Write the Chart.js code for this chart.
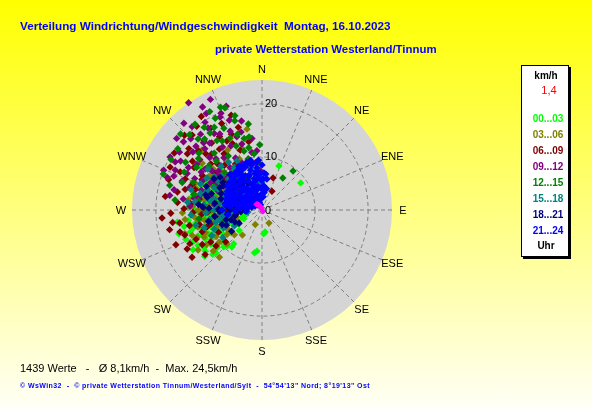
<!DOCTYPE html>
<html><head><meta charset="utf-8">
<script src="https://cdn.jsdelivr.net/npm/chart.js@4.4.0/dist/chart.umd.min.js"></script>
<style>
html,body{margin:0;padding:0;}
body{width:592px;height:407px;overflow:hidden;position:relative;background:linear-gradient(to bottom,#ffff00 0%,#fffff6 100%);font-family:"Liberation Sans",Arial,sans-serif;}
#c{position:absolute;left:0;top:0;}
.t{position:absolute;white-space:pre;line-height:1;margin:0;}
#title1{left:20px;top:20.1px;font-size:11.7px;font-weight:bold;color:#0000ff;}
#title2{left:215px;top:44.4px;font-size:11.4px;font-weight:bold;color:#0000ff;}
#foot1{left:20px;top:363.4px;font-size:11px;color:#000;}
#foot2{left:20px;top:382px;font-size:7px;font-weight:bold;color:#0000ff;letter-spacing:0.42px;}
#lbox{position:absolute;left:521px;top:65px;width:46px;height:190px;background:#fff;border:1px solid #000;box-shadow:2px 2px 0 #000;}
.lg{position:absolute;left:521px;width:50px;text-align:center;white-space:pre;line-height:1;font-size:10px;font-weight:bold;}
</style>
</head><body>
<div id="lbox"></div>
<canvas id="c" width="592" height="407"></canvas>
<div class="t" id="title1"></div>
<div class="t" id="title2"></div>
<div class="t" id="foot1"></div>
<div class="t" id="foot2"></div>
<div id="legend"></div>
<script>
// ---- texts / categories ----
const titleLine1 = "Verteilung Windrichtung/Windgeschwindigkeit  Montag, 16.10.2023";
const titleLine2 = "private Wetterstation Westerland/Tinnum";
const footerLine1 = "1439 Werte   -   Ø 8,1km/h  -  Max. 24,5km/h";
const footerLine2 = "© WsWin32  -  © private Wetterstation Tinnum/Westerland/Sylt  -  54°54'13\" Nord; 8°19'13\" Ost";
const directionLabels = ["N","NNE","NE","ENE","E","ESE","SE","SSE","S","SSW","SW","WSW","W","WNW","NW","NNW"];
const ringTicks = [0, 10, 20];
const scaleMax = 24.5;
const legendUnit = "km/h";
const currentSpeed = "1,4";
const legendFoot = "Uhr";
const seriesLabels = ["00...03","03...06","06...09","09...12","12...15","15...18","18...21","21...24"];
const seriesColors = ["#00ff00","#808000","#800000","#800080","#008000","#008080","#000080","#0000ff"];
const currentColor = "#ff00ff";

// ---- data: [direction in degrees, speed km/h] ----
const s0003 = [[250,10],[255,11],[260,12],[245,9],[240,11],[248,13],[252,8],[258,9],[262,14],[265,10],[268,12],[243,12],[237,13],[234,13.2],[230,11],[226,10],[220,8.3],[219,9],[228,12.5],[255,13.5],[262,16.1],[258,15],[270,11],[275,9],[278,12],[272,14],[266,7],[260,6],[253,6.5],[247,7],[242,6],[282,8],[286,10],[290,7],[280,5],[300,8],[310,10],[295,12],[305,14],[315,11],[250,4],[264,3.5],[240,15],[232,9.5],[238,7.5],[21,8.9],[55,8.9],[172,4.2],[176,4.5],[187,7.8],[190,8.2],[268,8],[257,10.5],[274,6],[246,11],
  [251,9.6],[256,7.8],[261,10.8],[244,10.4],[239,8.7],[247,12.2],[253,14.1],[259,12.7],[263,11.3],[267,9.3],[271,12.8],[276,10.6],[281,13.4],[284,11.7],[288,9.1],[292,12.4],[297,10.2],[241,13.8],[236,11.6],[231,13.9],[227,11.9],[224,9.4],[249,15.4],[254,16.3],[245,14.5],[257,5.2],[263,7.6],[270,8.9],[277,7.3],[285,6.6],[293,9.9],[302,11.1],[308,12.6],[233,7.2],[228,5.8],[239,5.1],[244,3.8],[256,3.2],[271,4.4],[282,10.3],[266,13.3],[259,8.2],[252,11.7],[248,5.9]];
const s0306 = [[152,2.8],[222,12],[238,14.2],[349.5,15.5],[245,12],[250,14],[255,12.5],[260,11],[265,13],[270,12],[275,10],[280,11],[285,9],[290,8],[260,7],[250,9],[240,10],[235,8],[230,12],[245,5],[255,5],[265,6],[275,5],[283,7],[295,11],[300,13],[310,12],[320,9],[305,7],[268,15],[258,13.8],[248,11.5],[262,9],[272,8],[278,14],[288,13],[228,7],[218,6],[205,3],[298,5],[315,16],[330,13],
  [243,10.7],[247,13.3],[252,11.2],[257,9.8],[262,12.4],[267,10.3],[273,13.1],[277,8.6],[282,12.7],[287,10.4],[292,13.6],[297,9.2],[303,11.8],[308,14.3],[313,10.6],[318,12.9],[324,11.4],[233,10.1],[238,12.3],[226,9.2],[241,7.4],[254,7.9],[269,9.6],[279,6.4],[289,5.7],[296,7.9],[311,8.4],[325,7.1],[336,10.5],[342,12.2],[263,14.6],[253,15.2]];
const s0609 = [[265.4,18.9],[236,15.9],[242.5,15.9],[19,6.4],[342,18.8],[317,19.3],[303,19.7],[310,18],[320,17],[330,16],[325,14],[315,15],[305,16],[295,17],[285,15],[275,16],[268,13],[258,14],[250,12],[245,15],[240,13],[232,11],[255,10],[263,9],[272,11],[280,12],[290,11],[300,10],[310,9],[320,11],[330,10],[340,12],[335,18],[300,13],[290,14],[280,8],[270,7],[260,8],[250,7.5],[285,6],[295,7],[305,5],[315,6],[262,17],[255,16],[248,17.5],[312,13],[322,20],[28,4],[275,13.5],[288,18.5],[327,21],
  [246,13.6],[252,15.3],[257,12.1],[261,15.7],[266,11.4],[271,14.7],[277,12.6],[282,16.3],[287,13.2],[292,15.6],[297,12.7],[302,15.1],[307,17.6],[313,16.4],[318,14.2],[323,15.8],[328,18.2],[333,14.6],[338,15.4],[344,16.2],[349,13.1],[238,11.4],[243,9.2],[253,10.8],[268,10.2],[283,9.6],[298,8.9],[308,11.3],[316,12.1],[326,12.8],[336,13.7],[258,17.8],[268,17.2],[278,18.4],[295,19.1],[314,20.3],[232,13.6],[229,9.1]];
const s0912 = [[325.6,24.5],[335.7,19.2],[345,15.2],[326.6,18.5],[299,18.7],[294.7,18],[330,21],[320,20.5],[315,19],[310,17],[305,15],[300,16],[295,14],[290,16],[288,12],[298,11],[308,12],[318,13],[328,14],[338,16],[343,13],[333,11],[323,10],[313,9],[303,8],[293,9],[285,10],[280,13],[275,11],[300,20],[310,21],[318,22],[328,17],[340,18],[350,11],[352,9],[357,7.5],[345,9],[315,14],[305,19],[292,20],[283,17],[278,15],[335,23],[322,16],[312,11],[302,13.5],[296,12.5],[286,8],[276,9],
  [287,14.3],[291,17.8],[296,15.7],[301,17.9],[306,13.2],[309,15.1],[314,17.3],[317,15.8],[321,18.4],[324,12.2],[327,19.7],[331,16.4],[334,13.4],[337,19.8],[341,14.6],[347,17.2],[352,13.6],[355,11.2],[302,10.1],[307,10.6],[317,11.4],[327,8.7],[337,9.6],[282,12.1],[279,17.6],[273,13.6],[289,18.9],[311,19.6],[319,16.8],[341,20.7],[330,22.4]];
const s1215 = [[38.5,9.4],[33,7.2],[299,19.6],[306,19.6],[340,20.5],[276.6,16.5],[332,21],[325,19],[318,18],[312,16],[335,17],[342,15],[348,12],[338,13],[328,12],[320,14],[310,13],[300,12],[292,14],[288,11],[296,10],[305,9],[315,10],[325,9],[335,8.5],[345,10],[355,9],[330,15],[322,20.5],[313,21],[302,17],[285,18],[280,9],[270,10],[262,12],[255,8],[298,7],[308,6],[330,18],[344,18.5],[350,14],
  [316,19.7],[321,17.2],[327,15.6],[333,19.4],[338,20.9],[343,17.6],[346,13.9],[351,16.4],[336,14.8],[326,17.5],[317,12.6],[309,15.4],[303,14.7],[296,16.3],[289,15.9],[283,13.2],[278,12.1],[314,8.3],[324,6.8],[343,11.6],[352,10.7],[358,12.3],[290,19.8]];
const s1518 = [[262,2.7],[270,4],[275,6],[280,8],[285,5],[290,7],[295,9],[300,6],[305,8],[310,10],[315,7],[320,9],[325,11],[330,8],[260,6],[265,8],[270,9],[275,11],[280,10],[285,12],[290,11],[295,10],[300,12],[305,11],[310,5],[250,7],[255,9],[260,10],[245,8],[268,5.5],[278,3.5],[288,4.5],[298,5],[308,4],[318,5.5],[328,6],[340,7],[350,5],[0,5.3],[292,8],[282,6.5],[272,7.5],[240,6],[235,9],
  [263,7.3],[267,10.6],[273,8.4],[277,12.7],[283,9.3],[287,10.9],[293,12.6],[297,7.6],[303,9.7],[307,12.8],[313,8.6],[317,11.3],[322,7.6],[327,9.6],[333,10.4],[337,6.4],[253,11.4],[258,8.1],[248,9.7],[243,10.6],[257,12.8],[266,13.4],[276,14.1],[286,13.9],[296,6.8],[312,6.1],[345,8.2],[355,7.1]];
const s1821 = [[265,4],[270,6],[275,5],[280,7],[285,8],[290,5],[295,6],[300,7],[305,9],[310,8],[315,6],[320,7],[325,5],[260,5],[255,7],[250,8],[262,9],[268,8],[272,10],[278,9],[288,10],[298,9],[308,10],[318,9],[280,3],[290,3],[300,4],[310,3],[320,4],[330,3],[240,5],[235,7],[246,5.6],[275,12],[285,11],
  [263,6.6],[267,4.7],[271,8.2],[276,6.7],[282,5.6],[287,6.4],[292,8.3],[297,4.4],[302,8.6],[307,6.3],[312,5.2],[317,8.1],[323,6.2],[327,8.4],[333,5.7],[338,6.8],[257,5.3],[252,6.1],[247,7.3],[273,11.2],[283,10.6],[293,11.4],[303,10.8],[258,10.3],[268,3.2],[296,2.2],[313,2.3],[345,4.1]];
const s2124 = [[288,6],[310,7.4],[333,8.4],[347,8.7],[346,3.9],[315,4],[281,4.8],[295,5.5],[300,3],[305,6],[320,6.5],[325,5],[330,3.5],[335,6],[340,7],[345,5.5],[350,4.5],[355,6.5],[358,3],[2,5.9],[9,5.9],[5,2.5],[350,2],[340,1.5],[325,2],[310,2.5],[290,3.5],[285,2],[280,6],[275,4],[278,7],[285,6.6],[292,7],[298,7.4],[305,7.9],[312,8],[318,8.3],[322,8.2],[328,8.8],[336,9.2],[342,9.4],[348,9],[353,8],[357,7],[0,8.5],[3,7],[330,7.5],[315,5.5],[300,5],[288,4],[296,2.5],[303,4.2],[312,3.8],[319,3],[327,4.5],[335,4],[342,3],[336,2.5],[320,1.2],[345,1],[300,1.5],[290,6.5],[283,5.5],[276,6],[272,3],[268,5],[265,3],[262,6.5],[270,7.5],[295,7.2],[308,7.2],[316,8.1],[325,8.6],[332,9.3],[340,9],[354,9.1],[349,7],[338,5],[324,7],[311,6.5],[306,7.5],[320,4.7],[287,6.8],[300,6.8],
  [283,3.3],[287,5.1],[291,4.1],[294,7.2],[297,6.2],[299,4.6],[302,7.1],[304,3.4],[307,5.2],[309,7.5],[313,6.8],[314,2.9],[317,7.7],[321,5.4],[323,3.7],[326,8.1],[329,6.4],[331,4.2],[334,7.2],[337,3.6],[339,8.7],[341,5.1],[344,7.8],[346,6.1],[348,2.6],[351,5.9],[352,7.4],[356,4.2],[359,5.6],[1,3.9],[4,4.6],[7,3.3],[279,2.7],[286,6.9],[293,3.1],[306,2.1],[318,1.9],[328,1.6],[333,2.3],[343,4.4],[311,7.6],[319,8.8],[327,7.1],[347,9.6],[356,9.4],[6,6.8],[12,4.1],[299,7],[289,6.9],[281,6.3]];
const sCurrent = [[320,1.4],[330,1.0],[335,0.7],[325,1.2],[340,0.4],[315,1.5],[150,0.3]];

const seriesData = [s0003,s0306,s0609,s0912,s1215,s1518,s1821,s2124];

// ---- HTML texts ----
document.getElementById('title1').textContent = titleLine1;
document.getElementById('title2').textContent = titleLine2;
document.getElementById('foot1').textContent = footerLine1;
document.getElementById('foot2').textContent = footerLine2;
const lg = document.getElementById('legend');
function addLg(text, top, color, extra){
  const d = document.createElement('div');
  d.className = 'lg'; d.textContent = text; d.style.top = top + 'px'; d.style.color = color;
  if (extra) Object.assign(d.style, extra);
  lg.appendChild(d);
}
addLg(legendUnit, 70.5, '#000');
addLg(currentSpeed, 84.7, '#ff0000', {fontWeight:'normal', fontSize:'11px', left:'524px'});
seriesLabels.forEach((l,i)=> addLg(l, 113.5 + i*16, seriesColors[i], {left:'523px'}));
addLg(legendFoot, 240.8, '#000');

// ---- chart ----
function toXY(arr){
  return arr.map(([d,s]) => ({x: s*Math.sin(d*Math.PI/180), y: s*Math.cos(d*Math.PI/180)}));
}
const datasets = seriesData.map((arr,i)=>({
  label: seriesLabels[i], data: toXY(arr), backgroundColor: seriesColors[i],
  pointStyle:'rectRot', pointRadius:3.7, pointBorderWidth:0, borderWidth:0, order: 9-i, clip:false
}));
datasets.push({label:'aktuell', data: toXY(sCurrent), backgroundColor: currentColor, pointStyle:'rectRot', pointRadius:3.2, pointBorderWidth:0, borderWidth:0, order:0, clip:false});

const polarGrid = {
  id:'polarGrid',
  beforeDatasetsDraw(chart){
    const {ctx, scales:{x, y}} = chart;
    const cx = x.getPixelForValue(0), cy = y.getPixelForValue(0);
    const R = x.getPixelForValue(scaleMax) - cx;
    ctx.save();
    ctx.fillStyle = '#d5d5d5';
    ctx.beginPath(); ctx.arc(cx, cy, R, 0, Math.PI*2); ctx.fill();
    ctx.strokeStyle = '#808080'; ctx.lineWidth = 1; ctx.setLineDash([4,3]);
    ringTicks.forEach(v => { if (v > 0) { const r = x.getPixelForValue(v) - cx; ctx.beginPath(); ctx.arc(cx, cy, r, 0, Math.PI*2); ctx.stroke(); } });
    directionLabels.forEach((lab, i) => {
      const a = i*22.5*Math.PI/180;
      ctx.beginPath(); ctx.moveTo(cx, cy);
      ctx.lineTo(x.getPixelForValue(scaleMax*Math.sin(a)), y.getPixelForValue(scaleMax*Math.cos(a)));
      ctx.stroke();
    });
    ctx.setLineDash([]);
    ctx.fillStyle = '#000'; ctx.font = '11px "Liberation Sans", Arial, sans-serif';
    ctx.textAlign = 'center'; ctx.textBaseline = 'middle';
    directionLabels.forEach((lab, i) => {
      const a = i*22.5*Math.PI/180; const rl = R + 11;
      ctx.fillText(lab, cx + rl*Math.sin(a), cy - rl*Math.cos(a) + 0.5);
    });
    ctx.restore();
  },
  afterDatasetsDraw(chart){
    const {ctx, scales:{x, y}} = chart;
    const cx = x.getPixelForValue(0);
    ctx.save();
    ctx.fillStyle = '#000'; ctx.font = '11px "Liberation Sans", Arial, sans-serif';
    ctx.textAlign = 'left'; ctx.textBaseline = 'middle';
    ringTicks.forEach(v => ctx.fillText(String(v), cx + 3, y.getPixelForValue(v) + 0.5));
    ctx.restore();
  }
};

new Chart(document.getElementById('c'), {
  type: 'scatter',
  data: { datasets },
  options: {
    responsive: false, animation: false, devicePixelRatio: 1,
    layout: { padding: { left: 132, right: 200, top: 80, bottom: 67 } },
    scales: {
      x: { type:'linear', min: -scaleMax, max: scaleMax, display: false },
      y: { type:'linear', min: -scaleMax, max: scaleMax, display: false }
    },
    plugins: { legend: { display: false }, tooltip: { enabled: false }, title: { display: false } },
    events: []
  },
  plugins: [polarGrid]
});
</script>
</body></html>
